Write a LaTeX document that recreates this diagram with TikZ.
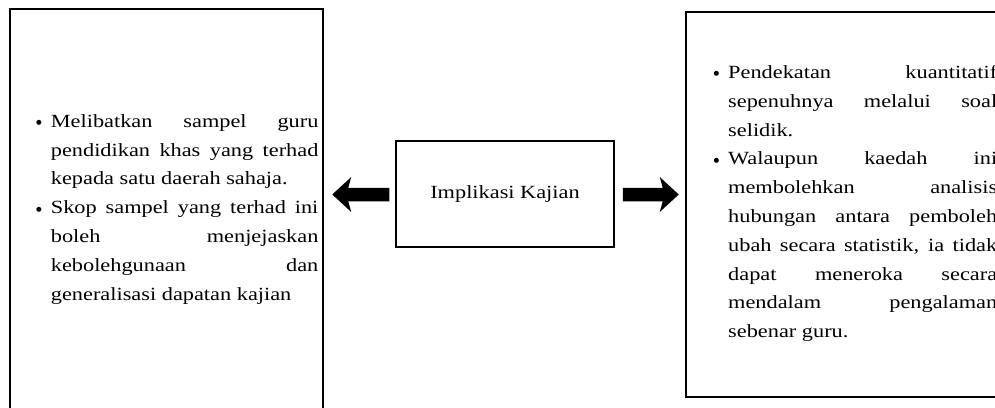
\documentclass[tikz,border=0pt]{standalone}
\usepackage{fontspec}
\setmainfont{Liberation Serif}[FakeStretch=1.2]
\newfontfamily\bodyfont{Liberation Serif}[FakeStretch=1.2]
\newfontfamily\symfont{DejaVu Sans}
\newcommand\bodysize{\fontsize{18.6}{28.8}\selectfont}
\newcommand\parsetup{\tolerance=10000\relax\hyphenpenalty=10000\relax\hbadness=10000\relax}
\newcommand\bul{\leavevmode\llap{{\symfont\fontsize{6.5}{6.5}\selectfont\raisebox{2.6pt}{●}}\hspace{9pt}}}
\begin{document}
\begin{tikzpicture}[x=1pt,y=-1pt,
  box/.style={draw=black, line width=1.5pt, inner sep=0pt},
  txt/.style={inner sep=0pt, align=justify, anchor=base west, font=\bodyfont\bodysize},
  blockarrow/.style={fill=black}]
\useasboundingbox (0,0) rectangle (995,407);
\clip (0,0) rectangle (995,407);
% boxes
\node (l) [box, minimum width=313pt, minimum height=421pt] at (166.5,219.5) {};
\node (r) [box, minimum width=324pt, minimum height=385pt] at (848,204.5) {};
\node (c) [box, minimum width=218pt, minimum height=106pt, font=\bodyfont\bodysize] at (505,194) {Implikasi Kajian};
% texts
\node (lt) [txt, text width=267.5pt] at (50.7,127.3) {\parsetup
\bul Melibatkan sampel guru\linebreak pendidikan khas yang terhad\linebreak kepada satu daerah sahaja.\par
\bul Skop sampel yang terhad ini\linebreak boleh menjejaskan\linebreak kebolehgunaan dan\linebreak generalisasi dapatan kajian};
\node (rt) [txt, text width=269pt] at (728,78.5) {\parsetup
\bul Pendekatan kuantitatif\linebreak sepenuhnya melalui soal\linebreak selidik.\par
\bul Walaupun kaedah ini\linebreak membolehkan analisis\linebreak hubungan antara pemboleh\linebreak ubah secara statistik, ia tidak\linebreak dapat meneroka secara\linebreak mendalam pengalaman\linebreak sebenar guru.};
% arrows
\fill[blockarrow, shift={(c.west)}] (-6,-6.25) -- (-47,-6.25) -- (-44,-17) -- (-63,0.5)
  -- (-44,18) -- (-47,7.25) -- (-6,7.25) -- cycle;
\fill[blockarrow, shift={(c.east)}] (8,-6.25) -- (48,-6.25) -- (45,-17) -- (64,0.5)
  -- (45,18) -- (48,7.25) -- (8,7.25) -- cycle;
\end{tikzpicture}
\end{document}
